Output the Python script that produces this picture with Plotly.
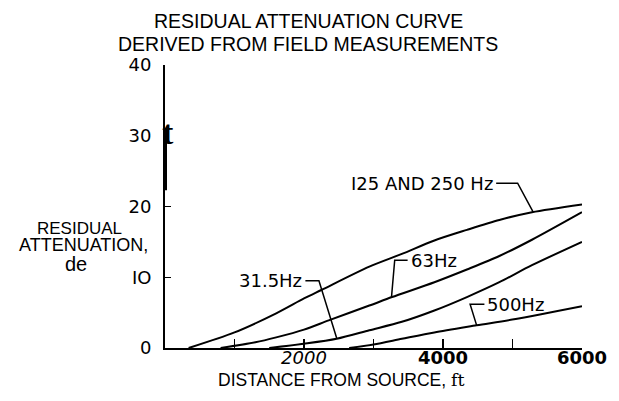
import plotly.graph_objects as go

# ---------------- data ----------------
dist_125_250 = [340, 1000, 1600, 2000, 2250, 2940, 3408, 3876, 4344, 4811, 5280, 6000]
att_125_250 = [0, 2.2, 4.9, 7.0, 8.2, 11.5, 13.3, 15.2, 16.7, 18.1, 19.2, 20.3]

dist_63 = [800, 1300, 1600, 2000, 2355, 2940, 3267, 3876, 4344, 4811, 5280, 6000]
att_63 = [0, 0.8, 1.5, 2.6, 3.9, 6.0, 7.2, 9.3, 11.1, 13.0, 15.3, 19.2]

dist_31 = [1500, 2000, 2470, 2940, 3408, 3876, 4344, 4811, 5280, 6000]
att_31 = [0, 0.6, 1.3, 2.5, 3.7, 5.3, 7.2, 9.3, 11.7, 15.0]

dist_500 = [2650, 3000, 3408, 3876, 4484, 5046, 6000]
att_500 = [0, 0.5, 1.3, 2.2, 3.2, 4.1, 5.9]

x_tickvals = [1000, 2000, 3000, 4000, 5000, 6000]
x_ticktext = ["", "<i>2000</i>", "", "<b>4000</b>", "", "<b>6000</b>"]
y_tickvals = [0, 10, 20, 30, 40]
y_ticktext = ["0", "IO", "20", "30", "40"]

title_lines = ["RESIDUAL ATTENUATION CURVE", "DERIVED FROM FIELD MEASUREMENTS"]
x_title = "DISTANCE FROM SOURCE, "
x_unit = "ft"
y_title_lines = ["RESIDUAL", "ATTENUATION,", "de"]

# curve labels: (text, text anchor x, text y, leader bend x, leader end x, leader end y, side)
labels = [
    ("I25 AND 250 Hz", 4765, 23.3, 5074, 5298, 19.2, "right"),
    ("63Hz", 3491, 12.4, 3305, 3259, 7.2, "left"),
    ("31.5Hz", 2020, 9.5, 2215, 2473, 1.3, "right"),
    ("500Hz", 4596, 6.2, 4390, 4484, 3.2, "left"),
]

# ---------------- figure ----------------
W, H = 619, 401
L, T = 165, 65
PW, PH = 428, 283
R, B = W - L - PW, H - T - PH


def px(sx):
    return (sx - L) / PW


def py(sy):
    return (H - B - sy) / PH


FONT = "Liberation Sans"
LFONT = "DejaVu Sans"
fig = go.Figure()
for xs, ys in [(dist_125_250, att_125_250), (dist_63, att_63), (dist_31, att_31), (dist_500, att_500)]:
    fig.add_trace(go.Scatter(x=xs, y=ys, mode="lines",
                             line=dict(color="black", width=2, shape="spline", smoothing=0.8),
                             hoverinfo="skip", showlegend=False))

shapes = []
annotations = []
for text, tx, ty, bx, ex, ey, side in labels:
    shapes.append(dict(type="path", xref="x", yref="y",
                       path=f"M {tx},{ty} L {bx},{ty} L {ex},{ey}",
                       line=dict(color="black", width=1.5)))
    annotations.append(dict(x=tx, y=ty, xref="x", yref="y", text=text, showarrow=False,
                            xanchor="right" if side == "right" else "left", yanchor="middle",
                            xshift=-1 if side == "right" else 1,
                            font=dict(family=LFONT, size=18, color="black")))

# thick segment of the y axis near 30 (as in the scan)
shapes.append(dict(type="line", xref="x", yref="y", x0=0, x1=0, y0=22.3, y1=30,
                   line=dict(color="black", width=4)))

annotations.append(dict(x=0, y=30.4, xref="x", yref="y", text="<b>t</b>", showarrow=False,
                        xanchor="center", yanchor="middle", xshift=3,
                        font=dict(family="Liberation Serif", size=34, color="black")))

# title lines
for txt, sy in zip(title_lines, [21, 44]):
    annotations.append(dict(x=px(312), y=py(sy), xref="paper", yref="paper", text=txt,
                            showarrow=False, xanchor="center", yanchor="middle",
                            font=dict(family=FONT, size=19.5, color="black")))

# y-axis title (left edges)
for txt, lx, cy, sz in zip(y_title_lines, [32, 13, 60], [228.5, 245, 264], [17, 18, 20]):
    annotations.append(dict(x=px(lx), y=py(cy), xref="paper", yref="paper", text=txt,
                            showarrow=False, xanchor="left", yanchor="middle",
                            font=dict(family=FONT, size=sz, color="black")))

# x-axis title
annotations.append(dict(x=px(346), y=py(380), xref="paper", yref="paper",
                        text=x_title + f"<span style='font-family:DejaVu Serif'>{x_unit}</span>",
                        showarrow=False, xanchor="center", yanchor="middle",
                        font=dict(family=FONT, size=17.5, color="black")))

fig.update_layout(
    width=W, height=H, autosize=False,
    margin=dict(l=L, r=R, t=T, b=B, pad=0),
    paper_bgcolor="white", plot_bgcolor="white",
    shapes=shapes, annotations=annotations,
    xaxis=dict(range=[0, 6000], tickvals=x_tickvals, ticktext=x_ticktext,
               ticks="inside", ticklen=9, tickwidth=1.5, tickcolor="black",
               showline=True, linecolor="black", linewidth=2, showgrid=False,
               zeroline=False, ticklabelstandoff=-8,
               tickfont=dict(family=LFONT, size=18, color="black")),
    yaxis=dict(range=[0, 40], tickvals=y_tickvals, ticktext=y_ticktext,
               ticks="", showline=True, linecolor="black", linewidth=2, showgrid=False,
               zeroline=False, ticklabelstandoff=8,
               minor=dict(tickvals=[10, 20], ticks="inside", ticklen=6, tickwidth=1.5,
                          tickcolor="black"),
               tickfont=dict(family=LFONT, size=18, color="black")),
)

fig.write_html("out.html",
               config=dict(displayModeBar=False, staticPlot=True),
               post_script="document.body.style.margin='0px';document.body.style.overflow='hidden';")
